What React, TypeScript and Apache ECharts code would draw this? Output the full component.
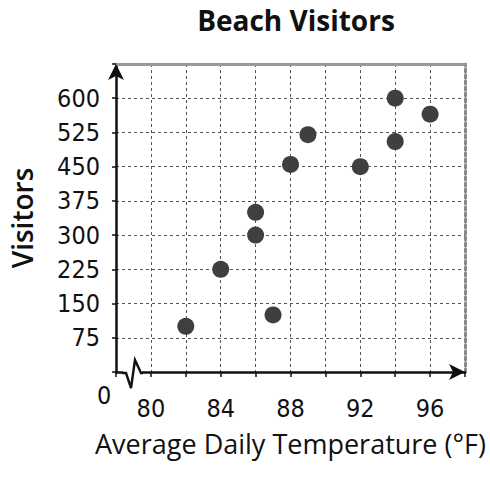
import React, { useEffect, useRef } from "react";
import * as echarts from "echarts";

const temperatures = [82, 84, 86, 86, 87, 88, 89, 92, 94, 94, 96];
const visitors = [100, 225, 350, 300, 125, 455, 520, 450, 600, 505, 565];
const xTickLabels = [80, 84, 88, 92, 96];
const yTickLabels = [75, 150, 225, 300, 375, 450, 525, 600];

const TICK_FONT = "'Liberation Sans Narrow', 'DejaVu Sans Condensed', 'Liberation Sans', sans-serif";
const NAME_FONT = "'Open Sans', 'Noto Sans', sans-serif";

export default function App() {
  const ref = useRef<HTMLDivElement>(null);
  useEffect(() => {
    if (!ref.current) return;
    const chart = echarts.init(ref.current, undefined, { renderer: "svg" });
    const points = temperatures.map((t, i) => [t, visitors[i]]);
    chart.setOption({
      animation: false,
      backgroundColor: "#fff",
      title: {
        text: "Beach Visitors",
        left: 291,
        top: 1,
        textAlign: "center",
        textStyle: { fontFamily: NAME_FONT, fontWeight: "bold", fontSize: 28, color: "#111" },
      },
      grid: { left: 116, right: 25, top: 64, bottom: 109 },
      xAxis: [
        {
          type: "value",
          min: 78,
          max: 98,
          interval: 2,
          name: "Average Daily Temperature (°F)",
          nameLocation: "middle",
          nameGap: 58,
          nameTextStyle: { fontFamily: NAME_FONT, fontSize: 27, color: "#111" },
          axisLine: {
            show: true,
            symbol: ["none", "arrow"],
            symbolSize: [12, 16],
            lineStyle: { color: "#111", width: 2.5 },
          },
          axisTick: { show: true, length: 5, lineStyle: { color: "#111", width: 1.5 } },
          axisLabel: {
            margin: 24,
            fontFamily: TICK_FONT,
            fontSize: 25,
            color: "#111",
            formatter: (v: number) => (xTickLabels.includes(v) ? String(v) : ""),
          },
          splitLine: { show: true, lineStyle: { color: "#555", width: 1, type: [3, 3] } },
        },
        {
          type: "value",
          position: "top",
          min: 78,
          max: 98,
          axisLine: { show: true, onZero: false, lineStyle: { color: "#999", width: 3 } },
          axisTick: { show: false },
          axisLabel: { show: false },
          splitLine: { show: false },
        },
      ],
      yAxis: [
        {
          type: "value",
          min: 0,
          max: 675,
          interval: 75,
          name: "Visitors",
          nameLocation: "middle",
          nameGap: 80,
          nameRotate: 90,
          nameTextStyle: { fontFamily: NAME_FONT, fontSize: 28, fontWeight: 600, color: "#111" },
          axisLine: {
            show: true,
            symbol: ["none", "arrow"],
            symbolSize: [12, 16],
            lineStyle: { color: "#111", width: 2.5 },
          },
          axisTick: { show: true, length: 4, lineStyle: { color: "#111", width: 1.5 } },
          axisLabel: {
            margin: 16,
            fontFamily: TICK_FONT,
            fontSize: 25,
            color: "#111",
            formatter: (v: number) => (yTickLabels.includes(v) ? String(v) : ""),
          },
          splitLine: { show: true, lineStyle: { color: "#555", width: 1, type: [3, 3] } },
        },
        {
          type: "value",
          position: "right",
          min: 0,
          max: 675,
          axisLine: { show: true, onZero: false, lineStyle: { color: "#888", width: 3, type: "dotted" } },
          axisTick: { show: false },
          axisLabel: { show: false },
          splitLine: { show: false },
        },
      ],
      graphic: [
        {
          type: "text",
          left: 97,
          top: 383,
          z: 100,
          style: { text: "0", fontFamily: TICK_FONT, fontSize: 25, fill: "#111" },
        },
        {
          type: "rect",
          z: 100,
          shape: { x: 123, y: 369, width: 19, height: 7 },
          style: { fill: "#fff" },
        },
        {
          type: "polyline",
          z: 101,
          shape: { points: [[122, 373], [126, 373], [131, 388], [135, 360], [141, 373], [143, 373]] },
          style: { stroke: "#111", lineWidth: 2.4, fill: "none" },
        },
      ],
      series: [
        {
          type: "scatter",
          xAxisIndex: 0,
          yAxisIndex: 0,
          data: points,
          symbolSize: 17,
          itemStyle: { color: "#3f3f3f", opacity: 1 },
          z: 10,
        },
      ],
    });
    return () => chart.dispose();
  }, []);
  return <div ref={ref} style={{ position: "fixed", left: 0, top: 0, width: 490, height: 481 }} />;
}
